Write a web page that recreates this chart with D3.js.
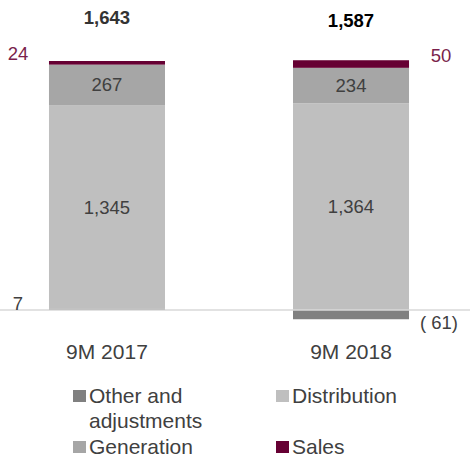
<!DOCTYPE html>
<html>
<head>
<meta charset="utf-8">
<script src="https://cdn.jsdelivr.net/npm/d3@7"></script>
<style>
  html, body { margin: 0; padding: 0; background: #fff; }
  svg { display: block; font-family: "Liberation Sans", Arial, sans-serif; }
</style>
</head>
<body>
<svg id="chart" width="470" height="459"></svg>
<script>
// EBITDA by business segment (stacked), two periods
const categories = ["9M 2017", "9M 2018"];
const seriesNames = ["Other and adjustments", "Distribution", "Generation", "Sales"];
const otherValues = [7, -61];
const distributionValues = [1345, 1364];
const generationValues = [267, 234];
const salesValues = [24, 50];
const totals = [1643, 1587];
const otherLabels = ["7", "( 61)"];
const numberLabels = d3.format(",");

const colors = {
  "Other and adjustments": "#808080",
  "Distribution": "#bfbfbf",
  "Generation": "#a6a6a6",
  "Sales": "#660033"
};

const rows = categories.map((c, i) => ({
  category: c,
  "Other and adjustments": otherValues[i],
  "Distribution": distributionValues[i],
  "Generation": generationValues[i],
  "Sales": salesValues[i]
}));

const svg = d3.select("#chart");

const x = d3.scaleBand()
  .domain(categories)
  .range([-6, 464])
  .paddingInner(0.5246)
  .paddingOuter(0.2253);

const y = d3.scaleLinear()
  .domain([0, 1643])
  .range([310, 61]);

const stack = d3.stack()
  .keys(seriesNames)
  .offset(d3.stackOffsetDiverging);
const layers = stack(rows);

// bars
svg.append("g")
  .selectAll("g")
  .data(layers)
  .join("g")
  .attr("fill", d => colors[d.key])
  .selectAll("rect")
  .data(d => d)
  .join("rect")
  .attr("x", d => x(d.data.category))
  .attr("width", x.bandwidth())
  .attr("y", d => y(Math.max(d[0], d[1])))
  .attr("height", d => Math.abs(y(d[0]) - y(d[1])));

// zero line
svg.append("line")
  .attr("x1", 0).attr("x2", 470)
  .attr("y1", y(0)).attr("y2", y(0))
  .attr("stroke", "#d9d9d9")
  .attr("stroke-width", 1.5);

const layerByKey = k => layers.find(l => l.key === k);

// labels inside the Distribution and Generation segments
["Distribution", "Generation"].forEach(k => {
  svg.append("g")
    .selectAll("text")
    .data(layerByKey(k))
    .join("text")
    .attr("x", d => x(d.data.category) + x.bandwidth() / 2)
    .attr("y", d => (y(d[0]) + y(d[1])) / 2)
    .attr("text-anchor", "middle")
    .attr("dominant-baseline", "central")
    .attr("font-size", 18.5)
    .attr("fill", "#404040")
    .text(d => numberLabels(d.data[k]));
});

// Sales labels beside the thin top segment
const sales = layerByKey("Sales");
svg.append("g")
  .selectAll("text")
  .data(sales)
  .join("text")
  .attr("x", (d, i) => i === 0 ? x(d.data.category) - 31 : x(d.data.category) + x.bandwidth() + 32)
  .attr("y", d => (y(d[0]) + y(d[1])) / 2 - 9)
  .attr("text-anchor", "middle")
  .attr("dominant-baseline", "central")
  .attr("font-size", 18.5)
  .attr("fill", "#7a1f4c")
  .text(d => numberLabels(d.data.Sales));

// Other and adjustments labels
const other = layerByKey("Other and adjustments");
svg.append("g")
  .selectAll("text")
  .data(other)
  .join("text")
  .attr("x", (d, i) => i === 0 ? x(d.data.category) - 31 : x(d.data.category) + x.bandwidth() + 30)
  .attr("y", (d, i) => i === 0 ? y(0) - 7 : y(d[0]) + 3)
  .attr("text-anchor", "middle")
  .attr("dominant-baseline", "central")
  .attr("font-size", 18.5)
  .attr("fill", "#404040")
  .text((d, i) => otherLabels[i]);

// totals above each bar
svg.append("g")
  .selectAll("text")
  .data(categories)
  .join("text")
  .attr("x", c => x(c) + x.bandwidth() / 2)
  .attr("y", (c, i) => y(totals[i]) - (i === 0 ? 44 : 49))
  .attr("text-anchor", "middle")
  .attr("dominant-baseline", "central")
  .attr("font-size", 18.5)
  .attr("font-weight", "bold")
  .attr("fill", (c, i) => i === 0 ? "#333333" : "#000000")
  .text((c, i) => numberLabels(totals[i]));

// category axis labels
svg.append("g")
  .selectAll("text")
  .data(categories)
  .join("text")
  .attr("x", c => x(c) + x.bandwidth() / 2)
  .attr("y", 351)
  .attr("text-anchor", "middle")
  .attr("dominant-baseline", "central")
  .attr("font-size", 21)
  .attr("fill", "#404040")
  .text(c => c);

// legend
const legendItems = [
  { key: "Other and adjustments", lines: ["Other and", "adjustments"], col: 0, y: 395 },
  { key: "Distribution", lines: ["Distribution"], col: 1, y: 395 },
  { key: "Generation", lines: ["Generation"], col: 0, y: 446 },
  { key: "Sales", lines: ["Sales"], col: 1, y: 446 }
];
const legendX = [73, 276];
const lg = svg.append("g")
  .selectAll("g")
  .data(legendItems)
  .join("g")
  .attr("transform", d => `translate(${legendX[d.col]},${d.y})`);
lg.append("rect")
  .attr("x", 0).attr("y", -5)
  .attr("width", 13).attr("height", 12)
  .attr("fill", d => colors[d.key]);
lg.append("text")
  .attr("font-size", 21)
  .attr("fill", "#404040")
  .selectAll("tspan")
  .data(d => d.lines)
  .join("tspan")
  .attr("x", 16)
  .attr("y", (d, i) => i * 25)
  .attr("dominant-baseline", "central")
  .text(d => d);
</script>
</body>
</html>
